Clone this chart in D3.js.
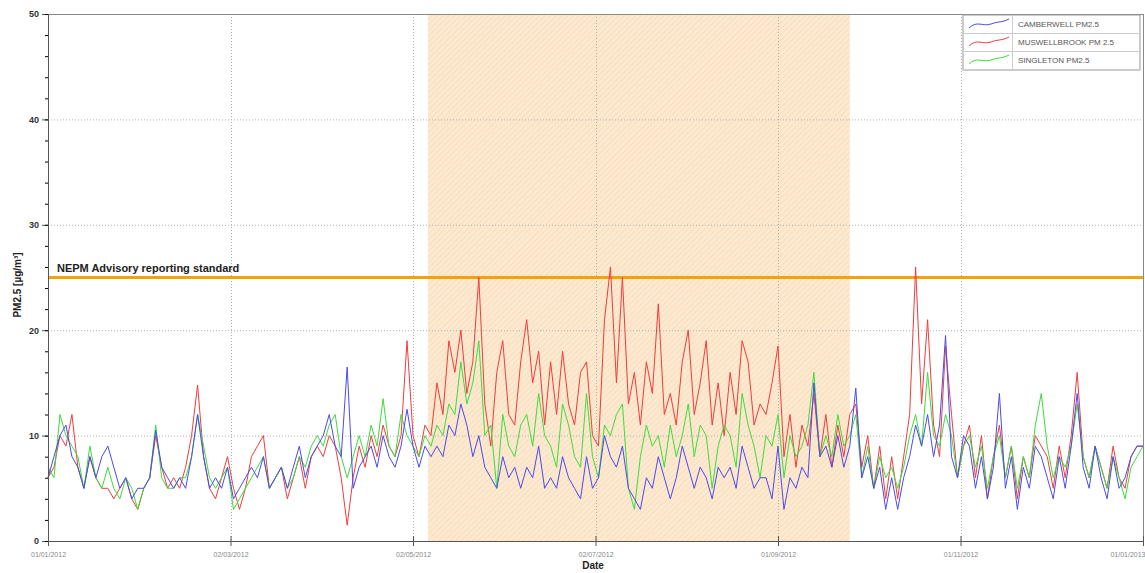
<!DOCTYPE html>
<html>
<head>
<meta charset="utf-8">
<script src="https://cdn.jsdelivr.net/npm/d3@7"></script>
<style>
  html, body { margin: 0; padding: 0; background: #fff; }
  svg { display: block; font-family: "Liberation Sans", Arial, sans-serif; }
</style>
</head>
<body>
<svg id="chart" width="1145" height="573"></svg>
<script>
// PM2.5 readings, one value every 2 days from 1 Jan 2012
const startDate = new Date(2012, 0, 1);
const stepDays = 2;
const camberwell = [
  6,8,10,11,8,7,5,8,6,8,
  9,7,5,6,4,5,5,6,10.5,7,
  6,5,6,5,8,12,8,5,6,5,
  7,4,5,6,7,6,8,5,6,7,
  5,7,9,6,8,9,10,12,9,8,
  16.5,5,7,8,9,7,10,8,7,9,
  12.5,9,7,9,8,9,8,11,10,13,
  11,8,10,7,6,5,8,6,7,5,
  7,6,9,5,6,5,8,6,5,4,
  8,5,6,10,8,7,9,5,4,3,
  6,5,8,6,4,6,9,7,5,7,
  6,4,7,6,7,5,9,7,5,6,
  6,4,9,3,6,5,7,6,15,8,
  9,7,10,7,9,14.5,6,8,5,7,
  3,6,3,6,8,11,9,12,8,11,
  19.5,8,6,10,9,5,8,4,7,14,
  5,8,3,7,5,9,8,6,4,8,
  5,9,14,7,5,9,6,4,8,5,
  6,8,9,9
];
const muswellbrook = [
  6,7,10,9,12,7,5,8,6,5,
  5,4,5,6,4,3,5,6,10,7,
  5,6,5,7,10,14.8,8,5,4,6,
  8,5,3,5,8,9,10,5,6,7,
  4,6,8,5,8,9,8,10,9,6,
  1.5,6,9,7,10,8,11,9,8,10,
  19,10,8,11,10,15,12,19,16,20,
  14,17,25,13,9,16,19,12,11,17,
  21,15,18,11,17,12,18,13,11,16,
  17,10,9,21,26,15,25,13,16,11,
  17,14,22.5,12,14,11,17,20,12,15,
  19,11,15,10,16,12,19,17,11,13,
  12,15,18.5,8,12,7,11,9,14,8,
  12,7,11,8,12,13,7,10,5,9,
  4,8,4,8,12,26,13,21,11,8,
  18.5,12,6,9,11,6,10,4,8,11,
  6,9,4,8,6,10,9,8,5,9,
  6,10,16,8,6,9,7,5,9,6,
  5,8,9,9
];
const singleton = [
  7,6,12,10,9,8,5,9,6,5,
  7,5,4,6,5,3,5,6,11,6,
  5,5,6,6,8,12,9,6,5,6,
  7,3,4,5,6,7,8,5,6,7,
  5,6,8,7,9,10,9,11,12,8,
  6,8,10,8,11,9,13.5,9,8,12,
  10,9,8,10,9,11,10,13,12,17,
  13,15,19,10,11,5,12,9,8,11,
  12,9,14,10,9,7,13,11,8,7,
  14,8,6,11,10,12,13,5,3,8,
  11,9,10,7,11,8,10,13,8,11,
  10,5,9,11,10,7,14,11,9,6,
  10,9,12,6,10,8,9,11,16,8,
  10,8,12,9,10,12,6,9,5,8,
  6,7,5,7,10,12,9,16,10,9,
  12,10,6,9,10,7,9,5,8,10,
  6,9,5,8,6,11,14,9,6,8,
  7,9,13,8,6,9,7,5,8,6,
  4,7,8,9
];

const seriesNames = ["CAMBERWELL PM2.5", "MUSWELLBROOK PM 2.5", "SINGLETON PM2.5"];
const seriesColors = ["#4a4af0", "#f03c3c", "#3cdc3c"];
const yTicks = [0, 10, 20, 30, 40, 50];
const xTickLabels = ["01/01/2012", "02/03/2012", "02/05/2012", "02/07/2012", "01/09/2012", "01/11/2012", "01/01/2013"];
const xTickDates = [new Date(2012,0,1), new Date(2012,2,2), new Date(2012,4,2), new Date(2012,6,2), new Date(2012,8,1), new Date(2012,10,1), new Date(2013,0,1)];
const seasonStart = new Date(2012, 4, 7);
const seasonEnd = new Date(2012, 8, 25);
const standardValue = 25;
const standardLabel = "NEPM Advisory reporting standard";

const svg = d3.select("#chart");
const plotL = 48, plotR = 1143, plotT = 14, plotB = 541;

const x = d3.scaleTime().domain([new Date(2012,0,1), new Date(2013,0,1)]).range([plotL, plotR]);
const y = d3.scaleLinear().domain([0, 50]).range([plotB, plotT]);

const dateAt = i => d3.timeDay.offset(startDate, i * stepDays);

// hatched fill for the winter band
const defs = svg.append("defs");
const pat = defs.append("pattern").attr("id", "hatch").attr("patternUnits", "userSpaceOnUse")
  .attr("width", 4).attr("height", 4).attr("patternTransform", "rotate(45)");
pat.append("rect").attr("width", 4).attr("height", 4).attr("fill", "#fce9d0");
pat.append("line").attr("x1", 0).attr("y1", 0).attr("x2", 0).attr("y2", 4).attr("stroke", "#f7dbb8").attr("stroke-width", 1.5);

svg.append("rect")
  .attr("x", x(seasonStart)).attr("y", plotT)
  .attr("width", x(seasonEnd) - x(seasonStart)).attr("height", plotB - plotT)
  .attr("fill", "url(#hatch)");

// grid
const grid = svg.append("g").attr("stroke", "#b0b0b0").attr("stroke-dasharray", "1,2").attr("stroke-width", 1);
yTicks.filter(v => v > 0 && v < 50).forEach(v => {
  grid.append("line").attr("x1", plotL).attr("x2", plotR).attr("y1", y(v) + 0.5).attr("y2", y(v) + 0.5);
});
xTickDates.slice(1, -1).forEach(d => {
  grid.append("line").attr("x1", Math.round(x(d)) + 0.5).attr("x2", Math.round(x(d)) + 0.5).attr("y1", plotT).attr("y2", plotB);
});

// frame
svg.append("line").attr("x1", plotL).attr("x2", plotR).attr("y1", plotT + 0.5).attr("y2", plotT + 0.5).attr("stroke", "#888");
svg.append("line").attr("x1", plotR + 0.5).attr("x2", plotR + 0.5).attr("y1", plotT).attr("y2", plotB).attr("stroke", "#888");

// standard line
svg.append("line").attr("x1", plotL).attr("x2", plotR)
  .attr("y1", y(standardValue)).attr("y2", y(standardValue))
  .attr("stroke", "#f0a30a").attr("stroke-width", 3);
svg.append("text").attr("x", 57).attr("y", y(standardValue) - 6)
  .attr("font-size", 11).attr("font-weight", "bold").attr("fill", "#222")
  .text(standardLabel);

// series lines
const all = [camberwell, muswellbrook, singleton];
const line = d3.line().x((d, i) => x(dateAt(i))).y(d => y(d));
[1, 2, 0].forEach(k => {
  svg.append("path").datum(all[k]).attr("d", line)
    .attr("fill", "none").attr("stroke", seriesColors[k]).attr("stroke-width", 1)
    .attr("stroke-linejoin", "round");
});

// axes
const yAxis = d3.axisLeft(y).tickValues(yTicks).tickSize(6).tickPadding(3);
const yMinor = d3.axisLeft(y).tickValues(d3.range(0, 51, 2)).tickSize(3).tickFormat("");
const gy = svg.append("g").attr("transform", `translate(${plotL},0)`).call(yAxis);
svg.append("g").attr("transform", `translate(${plotL},0)`).call(yMinor).select(".domain").remove();
gy.selectAll("text").attr("font-size", 9).attr("font-weight", "bold").attr("fill", "#333");
gy.selectAll("line, path").attr("stroke", "#555");

const xAxis = d3.axisBottom(x).tickValues(xTickDates).tickFormat((d, i) => xTickLabels[i]).tickSize(5).tickPadding(6);
const gx = svg.append("g").attr("transform", `translate(0,${plotB})`).call(xAxis);
gx.selectAll("text").attr("font-size", 7).attr("fill", "#888");
gx.selectAll("text").filter((d, i) => i === xTickDates.length - 1).attr("text-anchor", "end").attr("dx", 2);
gx.selectAll("line, path").attr("stroke", "#555");
gx.selectAll(".tick line").attr("y1", -5);

// axis titles
svg.append("text").attr("x", 593).attr("y", 569).attr("text-anchor", "middle")
  .attr("font-size", 10).attr("font-weight", "bold").attr("fill", "#222").text("Date");
svg.append("text").attr("transform", "translate(21,285) rotate(-90)").attr("text-anchor", "middle")
  .attr("font-size", 10).attr("font-weight", "bold").attr("fill", "#222").text("PM2.5 [µg/m³]");

// legend
const lg = svg.append("g").attr("transform", "translate(963,15)");
lg.append("rect").attr("width", 177).attr("height", 55).attr("fill", "#fff").attr("stroke", "#999");
seriesNames.forEach((name, i) => {
  const row = lg.append("g").attr("transform", `translate(0,${i * 18})`);
  row.append("line").attr("x1", 0).attr("x2", 177).attr("y1", 18.5).attr("y2", 18.5).attr("stroke", "#ccc");
  row.append("line").attr("x1", 49.5).attr("x2", 49.5).attr("y1", 0).attr("y2", 18).attr("stroke", "#ccc");
  row.append("path").attr("d", "M6,13 C14,5 20,12 28,9 S38,8 46,4")
    .attr("fill", "none").attr("stroke", seriesColors[i]).attr("stroke-width", 1);
  row.append("text").attr("x", 55).attr("y", 12).attr("font-size", 8).attr("fill", "#555").text(name);
});
</script>
</body>
</html>
